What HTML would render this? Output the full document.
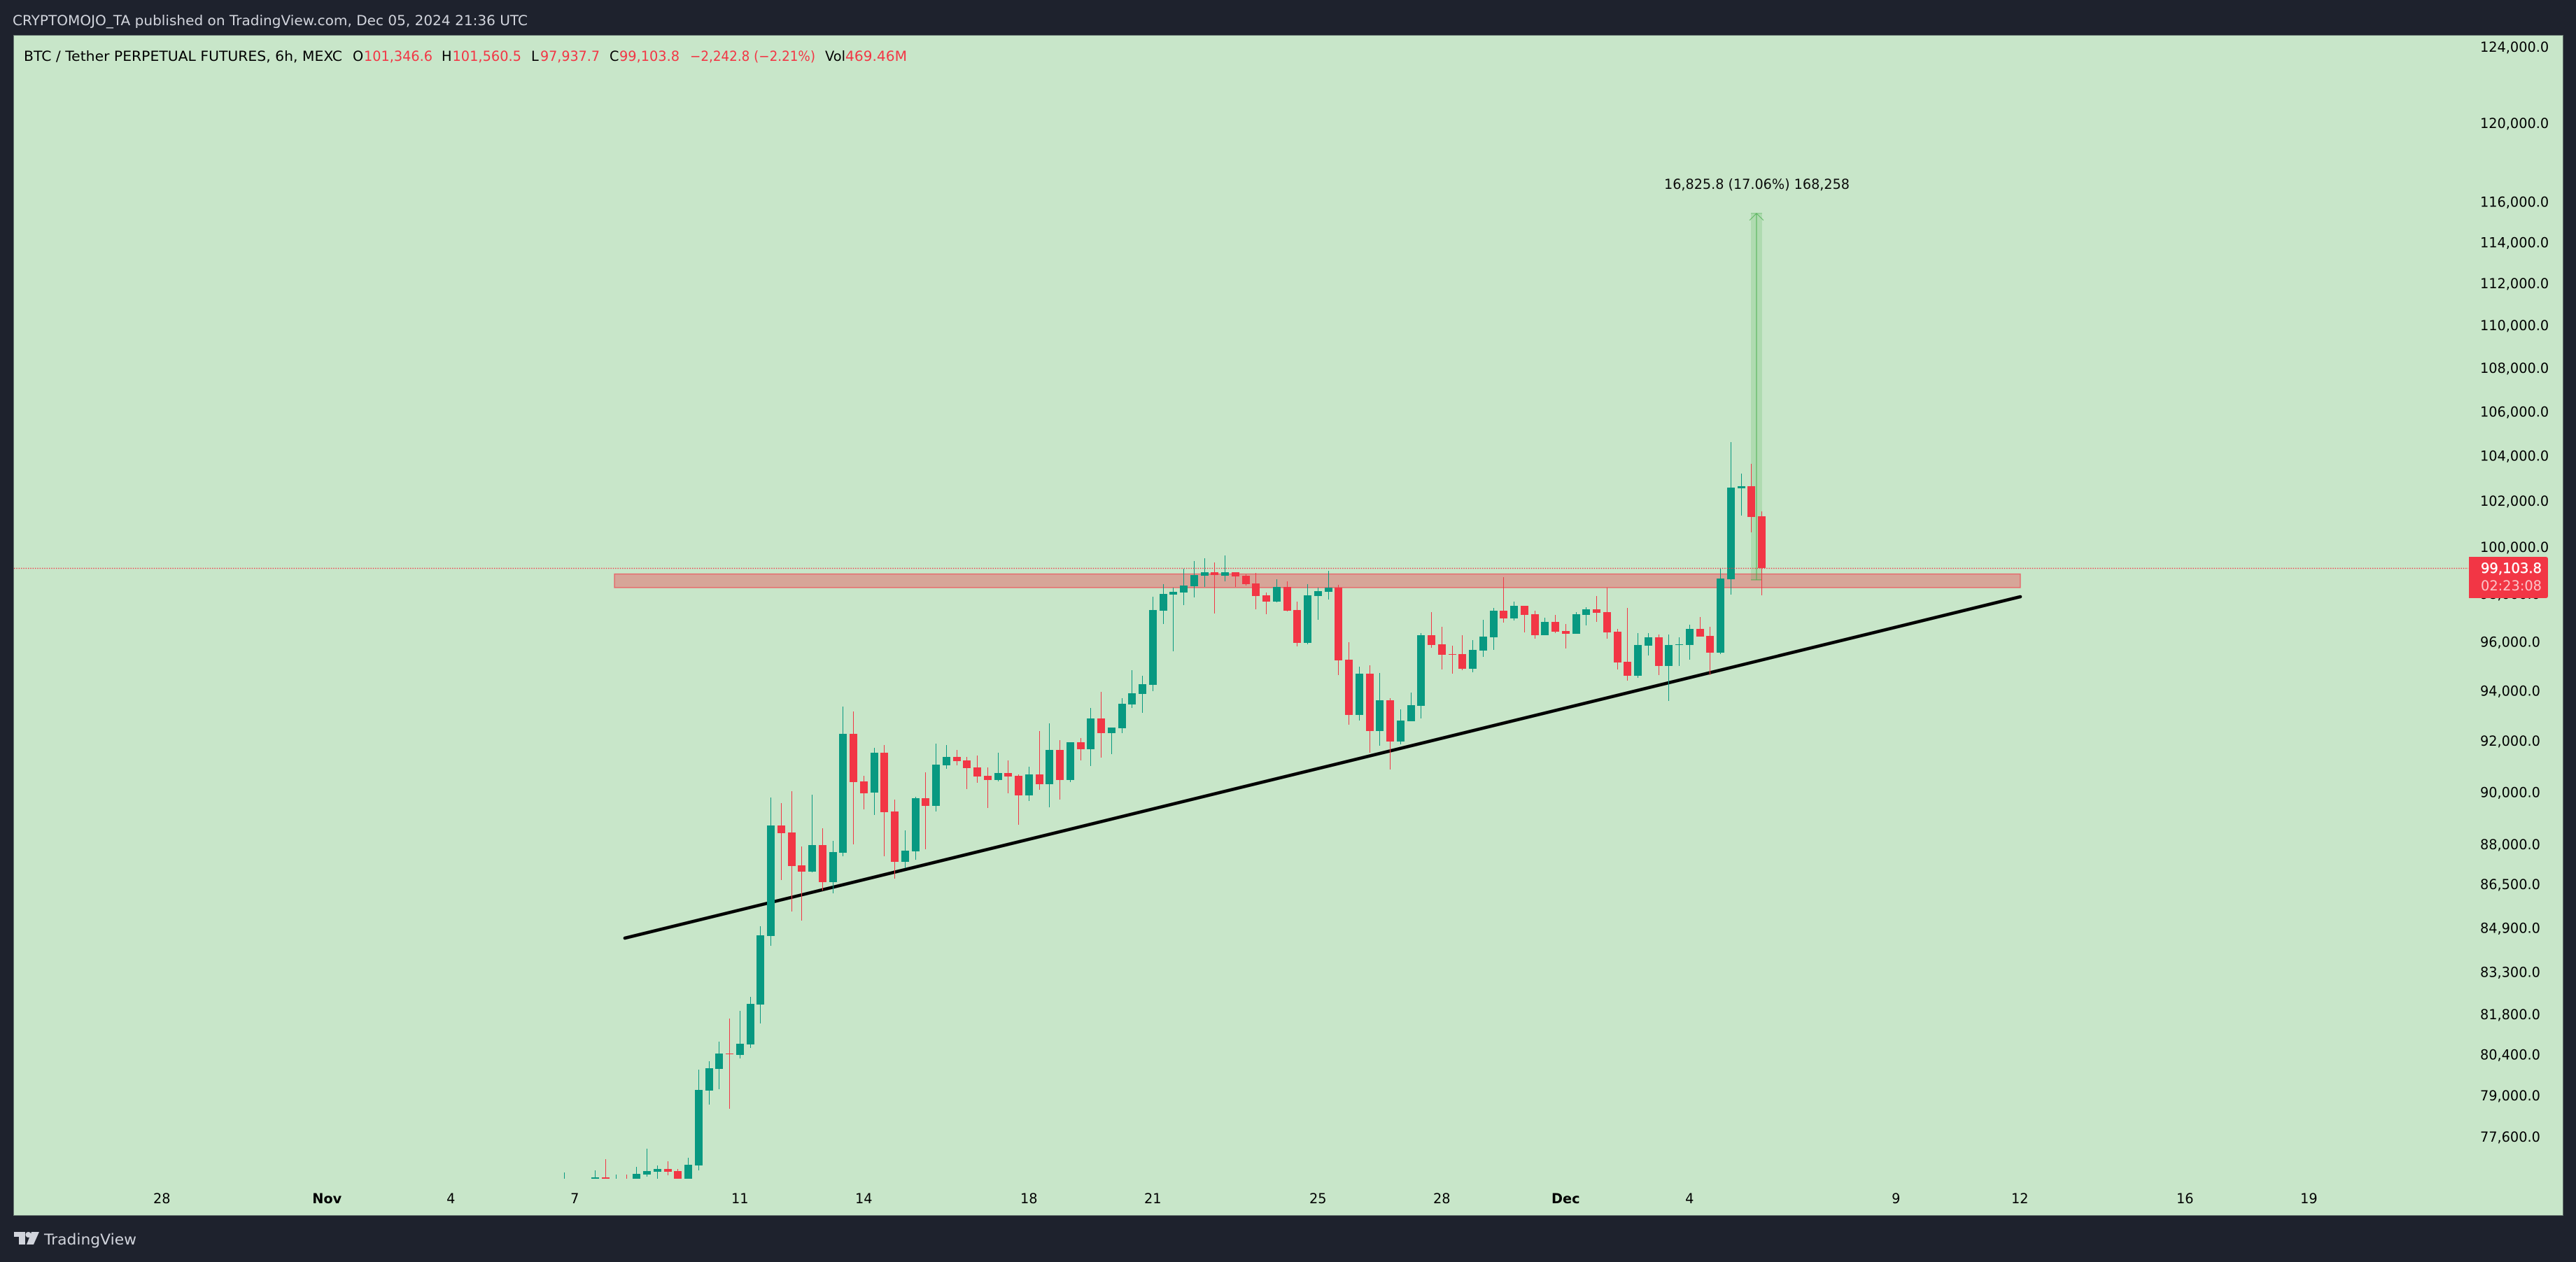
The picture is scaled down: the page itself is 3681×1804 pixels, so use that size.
<!DOCTYPE html>
<html lang="en">
<head>
<meta charset="utf-8">
<title>BTC / Tether Perpetual Futures 6h chart</title>
<style>
html,body{margin:0;padding:0;background:#1e222d;width:3681px;height:1804px;overflow:hidden}
svg{display:block}
text{font-family:"DejaVu Sans","Liberation Sans",sans-serif}
</style>
</head>
<body>
<svg id="chart" xmlns="http://www.w3.org/2000/svg" width="3681" height="1804" viewBox="0 0 3681 1804">
  <defs><clipPath id="paneClip"><rect x="20" y="51" width="3507" height="1634"/></clipPath></defs>
  <rect x="0" y="0" width="3681" height="1804" fill="#1e222d"/>
  <rect x="19.5" y="50.5" width="3643" height="1687" fill="#c8e6c9" stroke="#66746f" stroke-width="1"/>
  <text x="18" y="36" font-size="19.3" fill="#d1d4dc" textLength="736" lengthAdjust="spacingAndGlyphs">CRYPTOMOJO_TA published on TradingView.com, Dec 05, 2024 21:36 UTC</text>

  <g id="drawingsLayer"></g>
  <g id="candlesLayer" clip-path="url(#paneClip)"></g>
  <g id="priceLineLayer"></g>

  <g font-size="19.3">
    <text x="34" y="87" fill="#000" textLength="455" lengthAdjust="spacingAndGlyphs">BTC / Tether PERPETUAL FUTURES, 6h, MEXC</text>
    <text x="504" y="87" fill="#000">O</text>
    <text x="520" y="87" fill="#f23645" textLength="98" lengthAdjust="spacingAndGlyphs">101,346.6</text>
    <text x="631" y="87" fill="#000">H</text>
    <text x="646.5" y="87" fill="#f23645" textLength="98.5" lengthAdjust="spacingAndGlyphs">101,560.5</text>
    <text x="759" y="87" fill="#000">L</text>
    <text x="772" y="87" fill="#f23645" textLength="85" lengthAdjust="spacingAndGlyphs">97,937.7</text>
    <text x="871" y="87" fill="#000">C</text>
    <text x="885" y="87" fill="#f23645" textLength="86" lengthAdjust="spacingAndGlyphs">99,103.8</text>
    <text x="986" y="87" fill="#f23645" textLength="179" lengthAdjust="spacingAndGlyphs">−2,242.8 (−2.21%)</text>
    <text x="1179" y="87" fill="#000" textLength="29" lengthAdjust="spacingAndGlyphs">Vol</text>
    <text x="1208" y="87" fill="#f23645" textLength="88" lengthAdjust="spacingAndGlyphs">469.46M</text>
  </g>

  <text x="2378" y="270" font-size="19.3" fill="#0a0a0a" textLength="265" lengthAdjust="spacingAndGlyphs">16,825.8 (17.06%) 168,258</text>

  <g id="priceAxis"></g>
  <g id="timeAxis"></g>

  <g>
    <path d="M3528 796H3638a3 3 0 0 1 3 3V852a3 3 0 0 1 -3 3H3528Z" fill="#f23645"/>
    <text x="3545" y="819" font-size="19.3" font-weight="400" fill="#fff" stroke="#fff" stroke-width="0.4" textLength="87" lengthAdjust="spacingAndGlyphs">99,103.8</text>
    <text x="3545" y="844" font-size="19.3" fill="#fbc3c8" textLength="87" lengthAdjust="spacingAndGlyphs">02:23:08</text>
  </g>

  <g>
    <path d="M20 1761H36V1779H27V1768H20Z" fill="#d1d4dc"/>
    <circle cx="40.5" cy="1765" r="4" fill="#d1d4dc"/>
    <path d="M45 1761H56L48 1779H38Z" fill="#d1d4dc"/>
    <text x="63" y="1779" font-size="21.5" fill="#d1d4dc" textLength="132" lengthAdjust="spacingAndGlyphs">TradingView</text>
  </g>
</svg>

<script>
// ---- Chart data (6h bars, first bar = 2024-11-06 18:00 UTC) ----
const opens = [
75877,75700,75900,76150,76263,75877,76104,76059,76356,76449,
76541,76472,76104,76657,79163,79903,80435,80387,80750,82145,
84602,88718,88453,87212,86977,87976,86585,87685,92286,90417,
89982,91538,89256,87342,87738,89767,89471,91044,91372,91236,
90963,90635,90471,90744,90635,89875,90690,90307,91649,90471,
91954,91677,92897,92314,92508,93460,93881,94250,97302,97978,
98066,98331,98774,98924,98774,98924,98774,98448,97948,97684,
98301,97331,95965,97919,98095,98272,95275,93038,94706,92397,
93628,91981,92785,93403,96284,95908,95504,95504,94905,95647,
96197,97302,96979,97507,97155,96284,96834,96458,96342,97125,
97360,97243,96429,95190,94620,95850,96197,95019,95879,95879,
96545,96255,95561,98625,102560,102653,101346.6];
const highs = [
76426,76150,76150,76495,76864,76356,76356,76610,77211,76657,
76795,76541,76911,79879,80169,80847,81655,81925,82418,84959,
89794,89579,90034,87923,89901,88612,88135,93375,93178,90635,
91732,91843,89713,88533,89821,90771,91898,91843,91649,91372,
91427,90963,91538,91236,90690,90990,92397,92702,92037,91954,
92120,93319,93965,92535,93712,94848,94620,97890,98419,98272,
99073,99402,99522,99342,99641,98924,98834,98894,98066,98625,
98535,97684,98419,98272,98985,98389,95994,94991,95048,94734,
93712,93263,93937,96371,97243,96632,95850,96284,96081,96921,
97419,98714,97684,97507,97302,97008,97125,96747,97243,97449,
97919,98272,96545,97419,96371,96371,96313,96313,96197,96718,
97037,96632,99073,104615,103211,103648,101560.5];
const lows = [
75650,75300,75400,75990,75990,75764,75764,75877,76286,76218,
76333,75990,75990,76495,78687,79211,78545,80266,80629,81484,
84248,86663,85498,85164,86951,86272,86168,87552,88002,89336,
89121,87552,86716,87107,87420,87817,89256,90908,91044,90116,
90362,89390,90417,89955,88745,89659,90091,89417,89713,90389,
91236,91017,91345,91483,92314,93319,93122,93993,96747,95618,
97537,97860,98301,97184,98535,98301,98360,97360,97155,97654,
97272,95821,95908,96921,97772,94649,92646,92813,91538,91815,
90881,91870,92785,92897,95763,94877,94706,94848,94763,95390,
95676,96805,96892,96400,96139,96284,96371,95734,96342,96689,
96834,96139,94877,94421,94535,95447,94649,93600,95019,95275,
96226,94649,95504,97978,101364,100636,97937.7];
const closes = [
76104,75900,75700,76263,76172,76104,75877,76379,76472,76541,
76449,76150,76680,79187,79927,80435,80411,80774,82170,84628,
88718,88426,87185,86977,87976,86585,87711,92286,90389,89955,
91538,89229,87342,87764,89767,89471,91072,91372,91208,90935,
90608,90471,90744,90608,89875,90690,90307,91649,90471,91954,
91677,92897,92314,92535,93488,93909,94278,97331,98007,98095,
98360,98804,98924,98804,98924,98744,98419,97919,97684,98301,
97302,95965,97948,98125,98272,95247,93038,94706,92397,93628,
91981,92813,93431,96284,95879,95475,95475,94905,95676,96226,
97302,96979,97507,97125,96284,96834,96429,96342,97155,97360,
97213,96400,95161,94620,95879,96197,95019,95879,95908,96545,
96226,95561,98655,102591,102653,101303,99103.8];

const priceTicks = [124000,120000,116000,114000,112000,110000,108000,106000,104000,102000,100000,98000,96000,94000,92000,90000,88000,86500,84900,83300,81800,80400,79000,77600];
const timeTickDates = ['2024-10-28','2024-11-01','2024-11-04','2024-11-07','2024-11-11','2024-11-14','2024-11-18','2024-11-21','2024-11-25','2024-11-28','2024-12-01','2024-12-04','2024-12-09','2024-12-12','2024-12-16','2024-12-19'];
const timeTickLabels = ['28','Nov','4','7','11','14','18','21','25','28','Dec','4','9','12','16','19'];
const firstBarTime = '2024-11-06T18:00:00Z';

// drawings, in data units (bar index / price)
const lastPrice = 99103.8;
const zoneBars = [4.85, 141.05];
const zonePrices = [98849, 98271];
const trendBars = [5.86, 141.05];
const trendPrices = [84525, 97887];
const projectionBars = [114.95, 116.03];
const projectionPrices = [98600, 115426];

// ---- Axis functions ----
function yOf(price) { return 782 - 3325 * Math.log(price / 100000); }
function xOf(bar) { return 806.5 + 14.75 * bar; }
function barOfDate(dateStr) {
  return (Date.parse(dateStr + 'T00:00:00Z') - Date.parse(firstBarTime)) / 21600000;
}
function fmtPrice(p) {
  return p.toLocaleString('en-US', { minimumFractionDigits: 1, maximumFractionDigits: 1 });
}

const NS = 'http://www.w3.org/2000/svg';
function mk(tag, attrs, parent) {
  const el = document.createElementNS(NS, tag);
  for (const k in attrs) el.setAttribute(k, attrs[k]);
  parent.appendChild(el);
  return el;
}

const GREEN = '#089981', RED = '#f23645';

// ---- Drawings (below candles) ----
const drawings = document.getElementById('drawingsLayer');

const zone = mk('rect', {
  x: xOf(zoneBars[0]), y: yOf(zonePrices[0]),
  width: xOf(zoneBars[1]) - xOf(zoneBars[0]),
  height: yOf(zonePrices[1]) - yOf(zonePrices[0]),
  fill: 'rgba(242,54,69,0.37)', stroke: 'rgba(242,54,69,0.65)', 'stroke-width': 1.4
}, drawings);



const trend = mk('line', {
  x1: xOf(trendBars[0]), y1: yOf(trendPrices[0]),
  x2: xOf(trendBars[1]), y2: yOf(trendPrices[1]),
  stroke: '#000', 'stroke-width': 4.6, 'stroke-linecap': 'round'
}, drawings);



const pL = xOf(projectionBars[0]), pR = xOf(projectionBars[1]);
const pMid = (pL + pR) / 2;
const pBase = yOf(projectionPrices[0]), pTop = yOf(projectionPrices[1]);

const band = mk('rect', { x: pL, y: pTop, width: pR - pL, height: pBase - pTop, fill: 'rgba(76,175,80,0.2)' }, drawings);



const stem = mk('line', { x1: pMid, y1: pTop, x2: pMid, y2: pBase, stroke: '#4caf50', 'stroke-width': 1 }, drawings);



const head = mk('path', {
  d: 'M' + (pMid - 10) + ' ' + (pTop + 10) + 'L' + pMid + ' ' + pTop + 'L' + (pMid + 10) + ' ' + (pTop + 10),
  fill: 'none', stroke: '#4caf50', 'stroke-width': 1, opacity: 0.8
}, drawings);



const baseTick = mk('line', { x1: pL, y1: pBase, x2: pR, y2: pBase, stroke: '#4caf50', 'stroke-width': 1 }, drawings);



const topTick = mk('line', { x1: pL, y1: pTop, x2: pR, y2: pTop, stroke: '#4caf50', 'stroke-width': 1, opacity: 0.6 }, drawings);



// ---- Candles ----
const candlesLayer = document.getElementById('candlesLayer');
for (let i = 0; i < opens.length; i++) {
  const up = closes[i] >= opens[i];
  const color = up ? GREEN : RED;
  const left = Math.round(xOf(i) - 5.5);
  const top = Math.round(yOf(Math.max(opens[i], closes[i])));
  const bottom = Math.max(top + 1, Math.round(yOf(Math.min(opens[i], closes[i]))));
  const hi = Math.round(yOf(highs[i]));
  const lo = Math.round(yOf(lows[i]));
  const g = mk('g', { 'shape-rendering': 'crispEdges' }, candlesLayer);
  
  
  const wick = mk('rect', { x: left + 5, y: hi, width: 1, height: Math.max(1, lo - hi), fill: color }, g);
  
  
  const body = mk('rect', { x: left, y: top, width: 11, height: bottom - top, fill: color }, g);
  
  
}

// ---- Last price line ----
const priceLine = mk('line', {
  x1: 20, y1: yOf(lastPrice) + 0.5, x2: 3527, y2: yOf(lastPrice) + 0.5,
  stroke: RED, 'stroke-width': 1.3, 'stroke-dasharray': '1.4 1.93'
}, document.getElementById('priceLineLayer'));



// ---- Price axis ----
const priceAxis = document.getElementById('priceAxis');
priceTicks.forEach(function (p) {
  const t = mk('text', { x: 3544, y: yOf(p) + 7, 'font-size': 19.3, fill: '#000' }, priceAxis);
  t.textContent = fmtPrice(p);
  
  
});

// ---- Time axis ----
const timeAxis = document.getElementById('timeAxis');
timeTickDates.forEach(function (d, i) {
  const label = timeTickLabels[i];
  const isMonth = isNaN(Number(label));
  const t = mk('text', {
    x: xOf(barOfDate(d)), y: 1720, 'font-size': 19.3, fill: '#000',
    'text-anchor': 'middle', 'font-weight': isMonth ? 700 : 400
  }, timeAxis);
  t.textContent = label;
  
  
});
</script>
</body>
</html>
